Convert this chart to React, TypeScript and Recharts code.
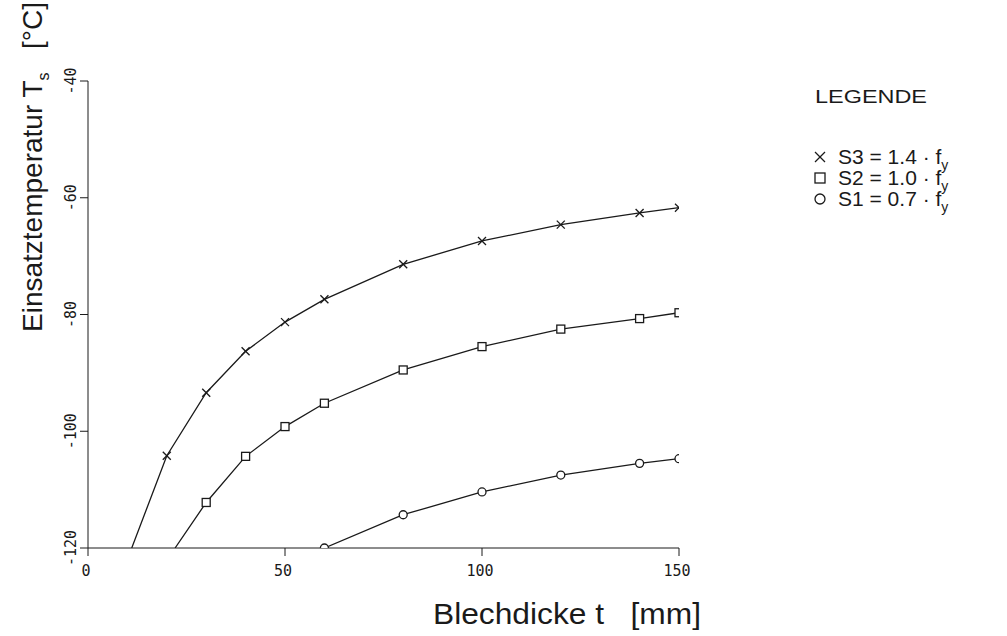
import { LineChart, Line, XAxis, YAxis, Legend, Label } from "recharts";

// Blechdicke t [mm] / Einsatztemperatur Ts [°C]
const s3Thickness = [11.1, 20, 30, 40, 50, 60, 80, 100, 120, 140, 150];
const s3Temp = [-120, -104.2, -93.4, -86.3, -81.3, -77.4, -71.4, -67.4, -64.6, -62.6, -61.7];
const s2Thickness = [22.1, 30, 40, 50, 60, 80, 100, 120, 140, 150];
const s2Temp = [-120, -112.2, -104.3, -99.2, -95.2, -89.5, -85.5, -82.5, -80.7, -79.7];
const s1Thickness = [60, 80, 100, 120, 140, 150];
const s1Temp = [-120, -114.3, -110.4, -107.5, -105.5, -104.7];

const xTicks = [0, 50, 100, 150];
const yTicks = [-120, -100, -80, -60, -40];

const seriesNames = ["S3", "S2", "S1"];
const seriesFactors = ["1.4", "1.0", "0.7"];

const toRows = (ts: number[], vs: number[]) => ts.map((t, i) => ({ t, temp: vs[i] }));

const INK = "#1a1a1a";
const TEXT_FONT = "'Liberation Sans', Arial, sans-serif";
const TICK_FONT = "'DejaVu Sans Mono', monospace";

type Shape = "cross" | "square" | "circle";

function Marker({ cx, cy, shape, size = 4 }: { cx: number; cy: number; shape: Shape; size?: number }) {
  if (shape === "cross") {
    return (
      <g stroke={INK} strokeWidth={1.3}>
        <line x1={cx - size} y1={cy - size} x2={cx + size} y2={cy + size} />
        <line x1={cx - size} y1={cy + size} x2={cx + size} y2={cy - size} />
      </g>
    );
  }
  if (shape === "square") {
    return (
      <rect x={cx - size} y={cy - size} width={size * 2} height={size * 2} fill="#fff" stroke={INK} strokeWidth={1.3} />
    );
  }
  return <circle cx={cx} cy={cy} r={size} fill="#fff" stroke={INK} strokeWidth={1.3} />;
}

const makeDot = (shape: Shape, skipFirst: boolean) => (props: any) => {
  const { cx, cy, index } = props;
  if (skipFirst && index === 0) return <g key={`d${index}`} />;
  return (
    <g key={`d${index}`}>
      <Marker cx={cx} cy={cy} shape={shape} />
    </g>
  );
};

const XTick = ({ x, y, payload }: any) => (
  <text x={x - 2} y={y + 18} textAnchor="middle" fontFamily={TICK_FONT} fontSize={15} fill={INK}>
    {payload.value}
  </text>
);

const YTick = ({ x, y, payload }: any) => (
  <text
    x={x - 2}
    y={y}
    transform={`rotate(-90, ${x - 2}, ${y})`}
    textAnchor="middle"
    fontFamily={TICK_FONT}
    fontSize={15}
    fill={INK}
  >
    {String(payload.value)}
  </text>
);

const LegendBox = () => {
  const shapes: Shape[] = ["cross", "square", "circle"];
  return (
    <svg width={207} height={160}>
      <text x={15} y={33} fontFamily={TEXT_FONT} fontSize={19} fill={INK} textLength={112} lengthAdjust="spacingAndGlyphs">
        LEGENDE
      </text>
      {seriesNames.map((name, i) => {
        const cy = 87 + i * 21;
        return (
          <g key={name}>
            <Marker cx={20} cy={cy} shape={shapes[i]} size={5} />
            <text x={38} y={cy + 7} fontFamily={TEXT_FONT} fontSize={21} fill={INK} xmlSpace="preserve">
              {`${name} = ${seriesFactors[i]} · f`}
              <tspan fontSize={14} dy={6}>y</tspan>
            </text>
          </g>
        );
      })}
    </svg>
  );
};

export default function App() {
  return (
    <div style={{ position: "absolute", left: 0, top: 0, width: 1007, height: 636, background: "#fff" }}>
      <LineChart width={1007} height={636} margin={{ top: 81, right: 328, bottom: 58, left: 28 }}>
        <XAxis
          type="number"
          dataKey="t"
          domain={[0, 150]}
          ticks={xTicks}
          allowDataOverflow
          height={30}
          tickSize={8}
          stroke={INK}
          tick={<XTick />}
        >
          <Label
            content={() => (
              <text x={433} y={624} fontFamily={TEXT_FONT} fontSize={29} fill={INK} textLength={268} lengthAdjust="spacingAndGlyphs" xmlSpace="preserve">
                Blechdicke t   [mm]
              </text>
            )}
          />
        </XAxis>
        <YAxis
          type="number"
          dataKey="temp"
          domain={[-120, -40]}
          ticks={yTicks}
          allowDataOverflow
          width={60}
          tickSize={8}
          stroke={INK}
          tick={<YTick />}
        >
          <Label
            content={() => (
              <text
                x={0}
                y={0}
                transform="translate(42, 332) rotate(-90)"
                fontFamily={TEXT_FONT}
                fontSize={28}
                fill={INK}
                xmlSpace="preserve"
              >
                Einsatztemperatur T
                <tspan fontSize={16} dy={7}>s</tspan>
                <tspan dy={-7}>   [°C]</tspan>
              </text>
            )}
          />
        </YAxis>
        <Legend
          layout="horizontal"
          verticalAlign="middle"
          align="center"
          wrapperStyle={{ position: "absolute", left: 800, top: 70, width: 207 }}
          content={() => <LegendBox />}
        />
        <Line
          data={toRows(s3Thickness, s3Temp)}
          dataKey="temp"
          name="S3"
          type="linear"
          stroke={INK}
          strokeWidth={1.3}
          dot={makeDot("cross", true)}
          isAnimationActive={false}
        />
        <Line
          data={toRows(s2Thickness, s2Temp)}
          dataKey="temp"
          name="S2"
          type="linear"
          stroke={INK}
          strokeWidth={1.3}
          dot={makeDot("square", true)}
          isAnimationActive={false}
        />
        <Line
          data={toRows(s1Thickness, s1Temp)}
          dataKey="temp"
          name="S1"
          type="linear"
          stroke={INK}
          strokeWidth={1.3}
          dot={makeDot("circle", false)}
          isAnimationActive={false}
        />
      </LineChart>
    </div>
  );
}
